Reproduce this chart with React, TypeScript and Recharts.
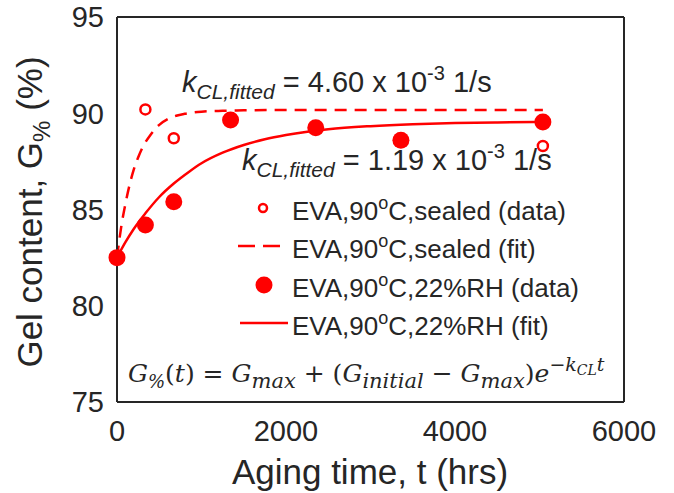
import React from "react";
import {
  ComposedChart,
  Line,
  Scatter,
  XAxis,
  YAxis,
  Customized,
} from "recharts";

// values
const xTicks = [0, 2000, 4000, 6000];
const yTicks = [75, 80, 85, 90, 95];

const sealedData = [
  { t: 336, g: 90.2 },
  { t: 672, g: 88.7 },
  { t: 5040, g: 88.3 },
];

const rhData = [
  { t: 0, g: 82.5 },
  { t: 336, g: 84.2 },
  { t: 672, g: 85.4 },
  { t: 1344, g: 89.65 },
  { t: 2352, g: 89.25 },
  { t: 3360, g: 88.6 },
  { t: 5040, g: 89.55 },
];

const sealedFit = [
  { t: 0, g: 82.5 },
  { t: 50, g: 84.1 },
  { t: 100, g: 85.3 },
  { t: 150, g: 86.3 },
  { t: 200, g: 87.1 },
  { t: 250, g: 87.7 },
  { t: 300, g: 88.2 },
  { t: 400, g: 88.9 },
  { t: 500, g: 89.4 },
  { t: 600, g: 89.7 },
  { t: 700, g: 89.87 },
  { t: 800, g: 89.97 },
  { t: 1000, g: 90.08 },
  { t: 1250, g: 90.13 },
  { t: 1500, g: 90.15 },
  { t: 2000, g: 90.17 },
  { t: 3000, g: 90.17 },
  { t: 4000, g: 90.17 },
  { t: 5040, g: 90.17 },
];

const rhFit = [
  { t: 0, g: 82.5 },
  { t: 100, g: 83.3 },
  { t: 200, g: 84.0 },
  { t: 336, g: 84.8 },
  { t: 500, g: 85.65 },
  { t: 672, g: 86.35 },
  { t: 850, g: 86.95 },
  { t: 1000, g: 87.4 },
  { t: 1250, g: 87.95 },
  { t: 1500, g: 88.35 },
  { t: 1750, g: 88.65 },
  { t: 2000, g: 88.87 },
  { t: 2500, g: 89.17 },
  { t: 3000, g: 89.33 },
  { t: 3500, g: 89.43 },
  { t: 4000, g: 89.49 },
  { t: 4500, g: 89.52 },
  { t: 5040, g: 89.55 },
];

const legendLabels = [
  "sealed (data)",
  "sealed (fit)",
  "22%RH (data)",
  "22%RH (fit)",
];

const RED = "#ff0000";
const INK = "#262626";
const SANS = "'Liberation Sans', Arial, sans-serif";
const SERIF = "'DejaVu Serif', serif";

const OpenDot = (p: any) => (
  <circle cx={p.cx} cy={p.cy} r={5} fill="#fff" stroke={RED} strokeWidth={2.5} />
);
const FullDot = (p: any) => <circle cx={p.cx} cy={p.cy} r={8.5} fill={RED} />;

function KLabel({ x, y, value }: { x: number; y: number; value: string }) {
  return (
    <text x={x} y={y} fontFamily={SANS} fontSize={29} fill={INK}>
      <tspan fontStyle="italic">k</tspan>
      <tspan fontStyle="italic" fontSize={21} dy={7}>
        CL,fitted
      </tspan>
      <tspan dy={-7}>{` = ${value} x 10`}</tspan>
      <tspan fontSize={20} dy={-12}>
        -3
      </tspan>
      <tspan dy={12}> 1/s</tspan>
    </text>
  );
}

function Overlay() {
  const rows = [208, 246, 285, 323];
  return (
    <g>
      <text
        x={42}
        y={212}
        transform="rotate(-90, 42, 212)"
        textAnchor="middle"
        fontFamily={SANS}
        fontSize={35}
        fill={INK}
      >
        Gel content, G
        <tspan fontSize={24} dy={8}>
          %
        </tspan>
        <tspan dy={-8}> (%)</tspan>
      </text>
      <text x={370} y={484} textAnchor="middle" fontFamily={SANS} fontSize={35} fill={INK}>
        Aging time, t (hrs)
      </text>

      <KLabel x={182} y={92} value="4.60" />
      <KLabel x={242} y={170} value="1.19" />

      <circle cx={263} cy={rows[0]} r={4} fill="#fff" stroke={RED} strokeWidth={2.5} />
      <line x1={238} x2={280} y1={rows[1]} y2={rows[1]} stroke={RED} strokeWidth={2.5} strokeDasharray="17 8" />
      <circle cx={264} cy={rows[2]} r={8.5} fill={RED} />
      <line x1={240} x2={288} y1={rows[3]} y2={rows[3]} stroke={RED} strokeWidth={2.5} />
      {legendLabels.map((lab, i) => (
        <text key={lab} x={292} y={rows[i] + 12} fontFamily={SANS} fontSize={26} fill={INK}>
          EVA,90
          <tspan fontSize={18} dy={-11}>
            o
          </tspan>
          <tspan dy={11}>{`C,${lab}`}</tspan>
        </text>
      ))}

      <text x={128} y={382} fontFamily={SERIF} fontSize={25} fill={INK}>
        <tspan fontStyle="italic">G</tspan>
        <tspan fontStyle="italic" fontSize={18} dy={6}>%</tspan>
        <tspan dy={-6}>(</tspan>
        <tspan fontStyle="italic">t</tspan>
        <tspan>{") = "}</tspan>
        <tspan fontStyle="italic">G</tspan>
        <tspan fontStyle="italic" fontSize={21} dy={6}>max</tspan>
        <tspan dy={-6}>{" + ("}</tspan>
        <tspan fontStyle="italic">G</tspan>
        <tspan fontStyle="italic" fontSize={21} dy={6}>initial</tspan>
        <tspan dy={-6}>{" − "}</tspan>
        <tspan fontStyle="italic">G</tspan>
        <tspan fontStyle="italic" fontSize={21} dy={6}>max</tspan>
        <tspan dy={-6}>)</tspan>
        <tspan fontStyle="italic">e</tspan>
        <tspan fontSize={19} dy={-11}>−</tspan>
        <tspan fontStyle="italic" fontSize={19}>k</tspan>
        <tspan fontStyle="italic" fontSize={14} dy={4}>CL</tspan>
        <tspan fontStyle="italic" fontSize={19} dy={-4}>t</tspan>
      </text>
    </g>
  );
}

export default function App() {
  const tickStyle = { fontSize: 29, fill: INK, fontFamily: SANS };
  const boxLine = { stroke: INK, strokeWidth: 2 };
  const tickMark = { stroke: INK, strokeWidth: 1.5 };
  return (
    <div style={{ position: "absolute", left: 0, top: 0, width: 674, height: 493, background: "#fff" }}>
      <ComposedChart width={674} height={493} margin={{ top: 17, right: 50, bottom: 0, left: 0 }}>
        {/* label axes */}
        <XAxis
          xAxisId="b"
          dataKey="t"
          type="number"
          domain={[0, 6000]}
          ticks={xTicks}
          height={91}
          axisLine={false}
          tickLine={false}
          tickSize={0}
          tickMargin={18}
          tick={tickStyle}
          interval={0}
        />
        <YAxis
          yAxisId="l"
          dataKey="g"
          type="number"
          domain={[75, 95]}
          ticks={yTicks}
          width={117}
          axisLine={false}
          tickLine={false}
          tickSize={0}
          tickMargin={13}
          tick={tickStyle}
          interval={0}
        />
        {/* box with inward ticks */}
        <XAxis xAxisId="bm" orientation="bottom" mirror type="number" domain={[0, 6000]} ticks={xTicks}
          axisLine={boxLine} tickLine={tickMark} tickSize={7} tick={false} interval={0} />
        <XAxis xAxisId="tm" orientation="top" mirror type="number" domain={[0, 6000]} ticks={xTicks}
          axisLine={boxLine} tickLine={tickMark} tickSize={7} tick={false} interval={0} />
        <YAxis yAxisId="lm" orientation="left" mirror type="number" domain={[75, 95]} ticks={yTicks}
          axisLine={boxLine} tickLine={tickMark} tickSize={7} tick={false} interval={0} />
        <YAxis yAxisId="rm" orientation="right" mirror type="number" domain={[75, 95]} ticks={yTicks}
          axisLine={boxLine} tickLine={tickMark} tickSize={7} tick={false} interval={0} />
        <Line
          xAxisId="b"
          yAxisId="l"
          data={sealedFit}
          dataKey="g"
          type="monotone"
          stroke={RED}
          strokeWidth={2.5}
          strokeDasharray="12 8"
          dot={false}
          isAnimationActive={false}
        />
        <Line
          xAxisId="b"
          yAxisId="l"
          data={rhFit}
          dataKey="g"
          type="monotone"
          stroke={RED}
          strokeWidth={2.5}
          dot={false}
          isAnimationActive={false}
        />
        <Scatter
          xAxisId="b"
          yAxisId="l"
          data={sealedData}
          dataKey="g"
          shape={OpenDot}
          isAnimationActive={false}
        />
        <Scatter
          xAxisId="b"
          yAxisId="l"
          data={rhData}
          dataKey="g"
          shape={FullDot}
          isAnimationActive={false}
        />
        <Customized component={Overlay} />
      </ComposedChart>
    </div>
  );
}
